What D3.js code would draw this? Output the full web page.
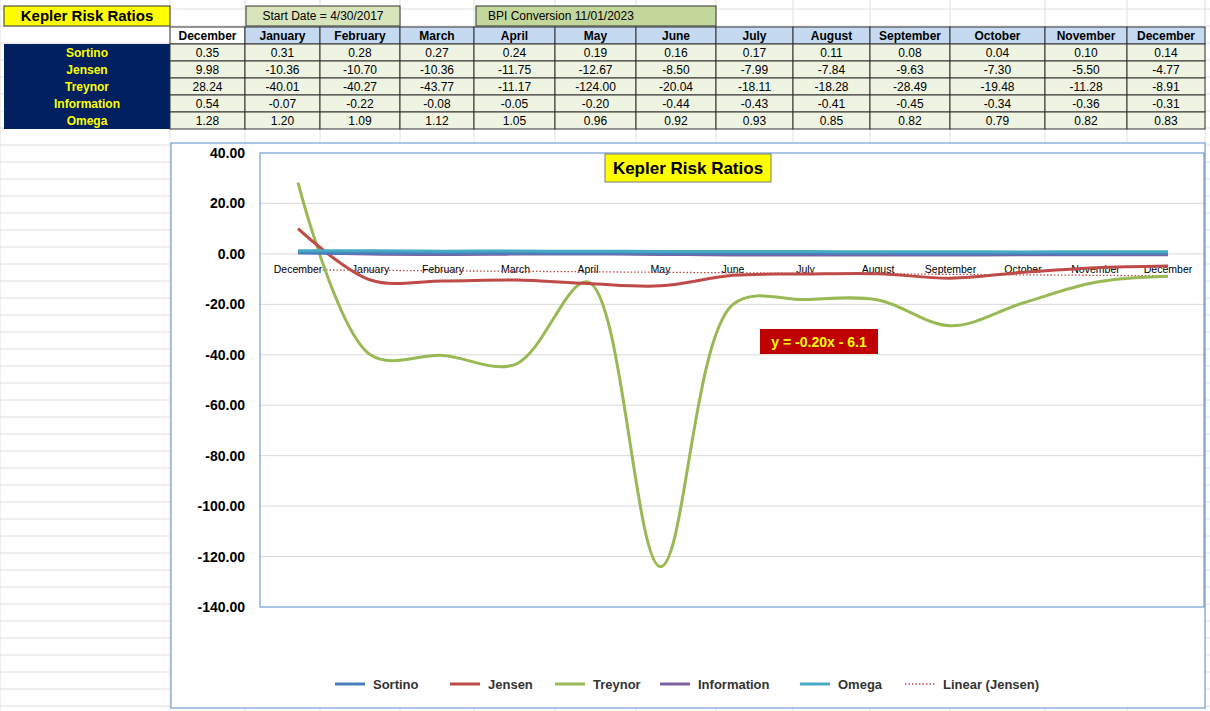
<!DOCTYPE html><html><head><meta charset="utf-8">
<script src="https://cdn.jsdelivr.net/npm/d3@7"></script>
<style>body{margin:0;background:#fff}svg{font-family:Arial,"Liberation Sans",sans-serif}</style></head><body>
<svg id="c" width="1210" height="711"></svg>
<script>
const months=["December","January","February","March","April","May","June","July","August","September","October","November","December"];
const seriesNames=["Sortino","Jensen","Treynor","Information","Omega"];
const sortino=[0.35,0.31,0.28,0.27,0.24,0.19,0.16,0.17,0.11,0.08,0.04,0.10,0.14];
const jensen=[9.98,-10.36,-10.70,-10.36,-11.75,-12.67,-8.50,-7.99,-7.84,-9.63,-7.30,-5.50,-4.77];
const treynor=[28.24,-40.01,-40.27,-43.77,-11.17,-124.00,-20.04,-18.11,-18.28,-28.49,-19.48,-11.28,-8.91];
const information=[0.54,-0.07,-0.22,-0.08,-0.05,-0.20,-0.44,-0.43,-0.41,-0.45,-0.34,-0.36,-0.31];
const omega=[1.28,1.20,1.09,1.12,1.05,0.96,0.92,0.93,0.85,0.82,0.79,0.82,0.83];
const yTicks=[40,20,0,-20,-40,-60,-80,-100,-120,-140];
const colors=["#4A7EBB","#BE4B48","#98B954","#7D60A0","#46AAC5"];
const data=[sortino,jensen,treynor,information,omega];
const svg=d3.select("#c");
// grid lines
const colX=[0,170,245,320,400,474,555,636,716,793,870,950,1045,1127,1205];
for(let y=9;y<711;y+=17) svg.append("line").attr("x1",0).attr("x2",1210).attr("y1",y).attr("y2",y).attr("stroke","#e0e0e0");
colX.forEach(x=>svg.append("line").attr("x1",x).attr("x2",x).attr("y1",0).attr("y2",711).attr("stroke","#e0e0e0"));
// title boxes
function box(x,y,w,h,fill,txt,fs,bold,anchor){svg.append("rect").attr("x",x).attr("y",y).attr("width",w).attr("height",h).attr("fill",fill).attr("stroke","#333");
 svg.append("text").attr("x",anchor==="start"?x+12:x+w/2).attr("y",y+h/2+fs*0.36).attr("text-anchor",anchor||"middle").attr("font-size",fs).attr("font-weight",bold?"bold":"normal").text(txt);}
box(4,6,166,20,"#FFFF00","Kepler Risk Ratios",15,true);
box(246,6,154,20,"#D8E4BC","Start Date = 4/30/2017",12,false);
box(476,6,240,20,"#C4D79B","BPI Conversion 11/01/2023",12,false,"start");
// table
const rowY=[27,44,61,78,95,112,129];
months.forEach((m,i)=>{const x=colX[i+1],w=colX[i+2]-colX[i+1];
 svg.append("rect").attr("x",x).attr("y",rowY[0]).attr("width",w).attr("height",17).attr("fill",i==0?"#fff":"#C5D9F1").attr("stroke","#333");
 svg.append("text").attr("x",x+w/2).attr("y",rowY[0]+13).attr("text-anchor","middle").attr("font-size",12).attr("font-weight","bold").text(m);});
seriesNames.forEach((s,r)=>{const y=rowY[r+1];
 svg.append("rect").attr("x",4).attr("y",y).attr("width",166).attr("height",17).attr("fill","#002060");
 svg.append("text").attr("x",87).attr("y",y+13).attr("text-anchor","middle").attr("font-size",12).attr("font-weight","bold").attr("fill","#FFFF00").text(s);
 data[r].forEach((v,i)=>{const x=colX[i+1],w=colX[i+2]-colX[i+1];
  svg.append("rect").attr("x",x).attr("y",y).attr("width",w).attr("height",17).attr("fill","#EEF3E2").attr("stroke","#333");
  svg.append("text").attr("x",x+w/2).attr("y",y+13).attr("text-anchor","middle").attr("font-size",12).text(v.toFixed(2));});});
// chart
svg.append("rect").attr("x",171).attr("y",143).attr("width",1034).attr("height",565).attr("fill","#fff").attr("stroke","#5B8BC9");
const x=d3.scalePoint().domain(d3.range(13)).range([298,1168]);
const y=d3.scaleLinear().domain([-140,40]).range([607,153]);
yTicks.forEach(t=>{if(t>-140&&t<40)svg.append("line").attr("x1",260).attr("x2",1204).attr("y1",y(t)).attr("y2",y(t)).attr("stroke","#d9d9d9");
 svg.append("text").attr("x",245).attr("y",y(t)+5).attr("text-anchor","end").attr("font-size",14).attr("font-weight","bold").text(t.toFixed(2));});
svg.append("rect").attr("x",260).attr("y",153).attr("width",944).attr("height",454).attr("fill","none").attr("stroke","#5B8BC9");
months.forEach((m,i)=>svg.append("text").attr("x",x(i)).attr("y",y(0)+19).attr("text-anchor","middle").attr("font-size",10.5).text(m));
// trendline
const tl=d3.line().x(d=>x(d)).y(d=>y(-0.20*(d+1)-6.1));
svg.append("path").attr("d",tl([0,12])).attr("stroke","#BE4B48").attr("stroke-width",1.3).attr("stroke-dasharray","1.5,2").attr("fill","none");
const line=d3.line().x((d,i)=>x(i)).y(d=>y(d)).curve(d3.curveCatmullRom.alpha(0.5));
[2,1,3,0,4].forEach(k=>svg.append("path").attr("d",line(data[k])).attr("stroke",colors[k]).attr("stroke-width",3).attr("fill","none"));
// chart title
svg.append("rect").attr("x",605).attr("y",154).attr("width",166).attr("height",28).attr("fill","#FFFF00").attr("stroke","#777");
svg.append("text").attr("x",688).attr("y",174).attr("text-anchor","middle").attr("font-size",17).attr("font-weight","bold").text("Kepler Risk Ratios");
svg.append("rect").attr("x",760).attr("y",329).attr("width",118).attr("height",25).attr("fill","#C00000");
svg.append("text").attr("x",819).attr("y",347).attr("text-anchor","middle").attr("font-size",14).attr("font-weight","bold").attr("fill","#FFFF00").text("y = -0.20x - 6.1");
// legend
const leg=[["Sortino",335,colors[0]],["Jensen",450,colors[1]],["Treynor",555,colors[2]],["Information",660,colors[3]],["Omega",800,colors[4]],["Linear (Jensen)",905,colors[1],true]];
leg.forEach(([n,lx,c,dash])=>{svg.append("line").attr("x1",lx).attr("x2",lx+30).attr("y1",684).attr("y2",684).attr("stroke",c).attr("stroke-width",dash?1.5:3).attr("stroke-dasharray",dash?"1.5,2":null);
 svg.append("text").attr("x",lx+38).attr("y",689).attr("font-size",13).attr("font-weight","bold").attr("fill","#333").text(n);});
</script></body></html>
